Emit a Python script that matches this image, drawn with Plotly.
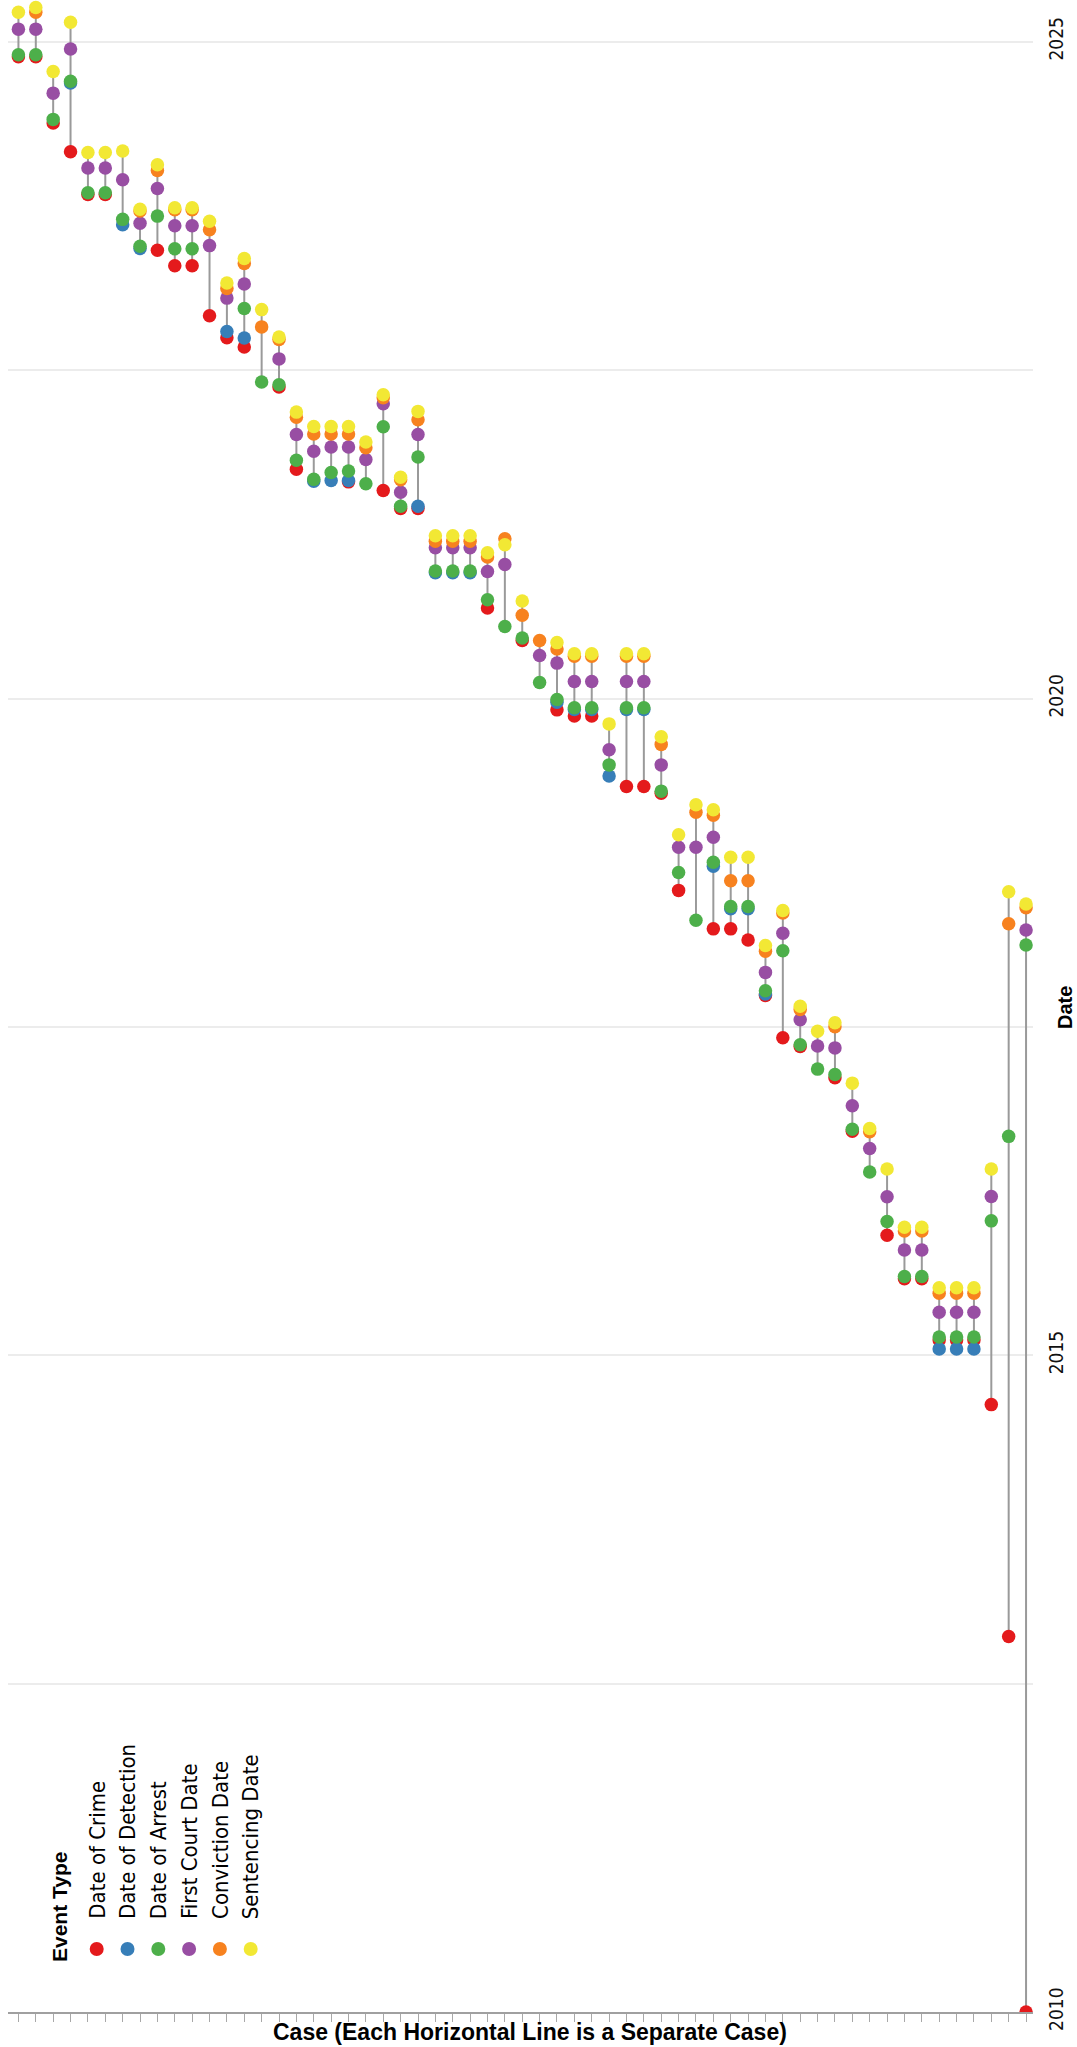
import plotly.graph_objects as go

# ---- data: one entry per case (case 1 .. 59); None = event not recorded ----
cases = list(range(1, 60))

crime = [
    "2024-11-20", "2024-11-20", "2024-05-20", "2024-03-01", "2023-11-03", "2023-11-03", None, None,
    "2023-06-01", "2023-04-19", "2023-04-19", "2022-12-01", "2022-10-01", "2022-09-05", None, "2022-05-17",
    "2021-09-30", None, None, "2021-08-26", None, "2021-08-02", "2021-06-13", "2021-06-13",
    None, None, None, "2020-09-09", None, "2020-06-11", None, "2019-12-01",
    "2019-11-14", "2019-11-14", None, "2019-05-02", "2019-05-02", "2019-04-13", "2018-07-17", None,
    "2018-04-01", "2018-04-01", "2018-03-01", "2017-09-28", "2017-06-02", "2017-05-09", None, "2017-02-11",
    "2016-09-15", None, "2015-12-01", "2015-08-02", "2015-08-02", "2015-02-13", "2015-02-13", "2015-02-13",
    "2014-08-17", "2012-11-10", "2010-01-01",
]

detection = [
    None, None, None, "2024-09-08", None, None, "2023-08-11", "2023-06-06",
    None, None, None, None, "2022-10-18", "2022-09-30", None, None,
    None, "2021-08-28", "2021-08-30", "2021-08-30", None, None, None, "2021-06-19",
    "2020-12-16", "2020-12-16", "2020-12-16", None, None, None, None, "2019-12-22",
    "2019-12-02", "2019-12-02", "2019-05-31", "2019-12-02", "2019-12-02", None, None, None,
    "2018-09-22", "2018-05-27", "2018-05-27", "2017-10-02", None, None, None, None,
    None, None, None, None, None, "2015-01-19", "2015-01-19", "2015-01-19",
    None, None, None,
]

arrest = [
    "2024-11-26", "2024-11-26", "2024-05-30", "2024-09-13", "2023-11-08", "2023-11-08", "2023-08-26", "2023-06-12",
    "2023-09-04", "2023-06-05", "2023-06-05", None, None, "2022-12-21", "2022-05-31", "2022-05-23",
    "2021-10-25", "2021-09-02", "2021-09-21", "2021-09-25", "2021-08-21", "2022-01-26", "2021-06-19", "2021-11-03",
    "2020-12-21", "2020-12-21", "2020-12-21", "2020-10-02", "2020-07-20", "2020-06-18", "2020-02-15", "2019-12-30",
    "2019-12-07", "2019-12-07", "2019-07-01", "2019-12-07", "2019-12-07", "2019-04-19", "2018-09-05", "2018-04-25",
    "2018-10-03", "2018-06-02", "2018-06-02", "2017-10-11", "2018-01-30", "2017-05-14", "2017-03-07", "2017-02-20",
    "2016-09-21", "2016-05-25", "2016-01-08", "2015-08-08", "2015-08-08", "2015-02-21", "2015-02-21", "2015-02-21",
    "2016-01-10", "2016-09-01", "2018-02-15",
]

first_court = [
    "2025-02-05", "2025-02-05", "2024-08-11", "2024-12-12", "2024-01-16", "2024-01-16", "2023-12-14", "2023-08-15",
    "2023-11-20", "2023-08-08", "2023-08-08", "2023-06-14", "2023-01-19", "2023-02-27", None, "2022-08-03",
    "2022-01-05", "2021-11-19", "2021-12-01", "2021-12-01", "2021-10-27", "2022-03-31", "2021-07-28", "2022-01-05",
    "2021-02-24", "2021-02-24", "2021-02-24", "2020-12-20", "2021-01-08", None, "2020-04-30", "2020-04-09",
    "2020-02-18", "2020-02-18", "2019-08-12", "2020-02-18", "2020-02-18", "2019-07-01", "2018-11-14", "2018-11-14",
    "2018-12-12", None, None, "2017-12-01", "2018-03-20", "2017-07-22", "2017-05-10", "2017-05-05",
    "2016-11-25", "2016-07-29", "2016-03-17", "2015-10-21", "2015-10-21", "2015-05-01", "2015-05-01", "2015-05-01",
    "2016-03-18", None, "2018-03-29",
]

conviction = [
    None, "2025-03-24", None, None, None, None, None, "2023-09-18",
    "2024-01-09", "2023-09-22", "2023-09-22", "2023-07-28", "2023-02-15", "2023-04-25", "2022-10-31", "2022-09-26",
    "2022-02-22", "2022-01-06", "2022-01-06", "2022-01-06", "2021-11-29", "2022-04-17", "2021-09-01", "2022-02-15",
    "2021-03-14", "2021-03-14", "2021-03-14", "2021-01-29", "2021-03-21", "2020-08-20", "2020-06-11", "2020-05-18",
    "2020-04-28", "2020-04-28", None, "2020-04-28", "2020-04-28", "2019-08-27", None, "2019-02-19",
    "2019-02-11", "2018-08-13", "2018-08-13", "2018-01-29", "2018-05-15", "2017-08-20", None, "2017-07-03",
    None, "2016-09-14", None, "2015-12-13", "2015-12-13", "2015-06-23", "2015-06-23", "2015-06-23",
    None, "2018-04-15", "2018-05-30",
]

sentencing = [
    "2025-03-24", "2025-04-06", "2024-10-10", "2025-02-24", "2024-02-28", "2024-02-28", "2024-03-03", "2023-09-23",
    "2024-01-25", "2023-09-27", "2023-09-27", "2023-08-21", "2023-03-02", "2023-05-09", "2022-12-18", "2022-10-03",
    "2022-03-08", "2022-01-27", "2022-01-27", "2022-01-27", "2021-12-15", "2022-04-25", "2021-09-08", "2022-03-10",
    "2021-03-29", "2021-03-29", "2021-03-29", "2021-02-10", "2021-03-04", "2020-09-29", None, "2020-06-05",
    "2020-05-05", "2020-05-05", "2019-10-23", "2020-05-05", "2020-05-05", "2019-09-17", "2018-12-19", "2019-03-12",
    "2019-02-26", "2018-10-17", "2018-10-17", "2018-02-14", "2018-05-22", "2017-08-29", "2017-06-20", "2017-07-14",
    "2017-01-27", "2016-09-23", "2016-06-02", "2015-12-23", "2015-12-23", "2015-07-08", "2015-07-08", "2015-07-08",
    "2016-06-02", "2018-07-13", "2018-06-09",
]

event_names = ["Date of Crime", "Date of Detection", "Date of Arrest",
               "First Court Date", "Conviction Date", "Sentencing Date"]
event_colors = ["#e41a1c", "#377eb8", "#4daf4a", "#984ea3", "#f7821f", "#f2e834"]
event_series = [crime, detection, arrest, first_court, conviction, sentencing]

year_ticks = ["2010-01-01", "2012-07-02", "2015-01-01", "2017-07-02",
              "2020-01-01", "2022-07-02", "2025-01-01"]
year_labels = ["2010", "", "2015", "", "2020", "", "2025"]

# ---- page geometry (pixels) ----
W, H = 1077, 2047
ML, MR, MT, MB = 8, 44, 0, 35
PW, PH = W - ML - MR, H - MT - MB

NARROW = "Liberation Sans Narrow, Arial Narrow, DejaVu Sans Condensed, sans-serif"
SANS = "Liberation Sans, Arial, Helvetica, sans-serif"


def px_x(px):
    return (px - ML) / PW


def px_y(py):
    return (H - MB - py) / PH


fig = go.Figure()

# span of each case: earliest to latest recorded event
span_x, span_y = [], []
for i, c in enumerate(cases):
    dates = [s[i] for s in event_series if s[i] is not None]
    span_x += [c, c, None]
    span_y += [min(dates), max(dates), None]

fig.add_trace(go.Scatter(
    x=span_x, y=span_y, mode="lines",
    line=dict(color="#9a9a9a", width=2),
    hoverinfo="skip", showlegend=False,
))

for name, color, series in zip(event_names, event_colors, event_series):
    fig.add_trace(go.Scatter(
        x=cases, y=series, mode="markers", name=name,
        marker=dict(size=13.5, color=color, line=dict(width=0)),
        showlegend=False,
    ))

fig.update_layout(
    width=W, height=H,
    margin=dict(l=ML, r=MR, t=MT, b=MB, pad=0),
    paper_bgcolor="white", plot_bgcolor="white",
    showlegend=False,
    xaxis=dict(
        range=[0.4, 59.4], tickmode="array", tickvals=cases, showticklabels=False,
        ticks="outside", ticklen=8, tickcolor="#a8a8a8", tickwidth=1,
        showline=True, linecolor="#a0a0a0", linewidth=1.5,
        showgrid=False, zeroline=False,
    ),
    yaxis=dict(
        type="date", range=["2010-01-01", "2025-04-27"], side="right",
        tickmode="array", tickvals=year_ticks, ticktext=year_labels,
        tickangle=-90, ticks="", ticklabelstandoff=10,
        tickfont=dict(family=NARROW, size=19, color="#111"),
        showgrid=True, gridcolor="#ececec", gridwidth=1.5,
        showline=False, zeroline=False,
    ),
)

annotations = [
    dict(text="Case (Each Horizontal Line is a Separate Case)",
         xref="paper", yref="paper", x=px_x(530), y=px_y(2032),
         xanchor="center", yanchor="middle", showarrow=False,
         font=dict(family=SANS, size=23, color="#000", weight="bold")),
    dict(text="Date", xref="paper", yref="paper", x=px_x(1065), y=px_y(1008),
         xanchor="center", yanchor="middle", textangle=-90, showarrow=False,
         font=dict(family=SANS, size=20, color="#000", weight="bold")),
    dict(text="Event Type", xref="paper", yref="paper", x=px_x(59), y=px_y(1964),
         xanchor="center", yanchor="bottom", textangle=-90, showarrow=False,
         font=dict(family=SANS, size=21, color="#000", weight="bold")),
]

shapes = []
for k, (name, color) in enumerate(zip(event_names, event_colors)):
    cx = 96.7 + 30.8 * k
    annotations.append(dict(
        text=name, xref="paper", yref="paper", x=px_x(cx), y=px_y(1921),
        xanchor="center", yanchor="bottom", textangle=-90, showarrow=False,
        font=dict(family=NARROW, size=22, color="#000"),
    ))
    shapes.append(dict(
        type="circle", xref="paper", yref="paper",
        xsizemode="pixel", ysizemode="pixel",
        xanchor=px_x(cx), yanchor=px_y(1949),
        x0=-7, x1=7, y0=-7, y1=7,
        fillcolor=color, line=dict(width=0),
    ))

fig.update_layout(annotations=annotations, shapes=shapes)

fig.write_html("out.html")
